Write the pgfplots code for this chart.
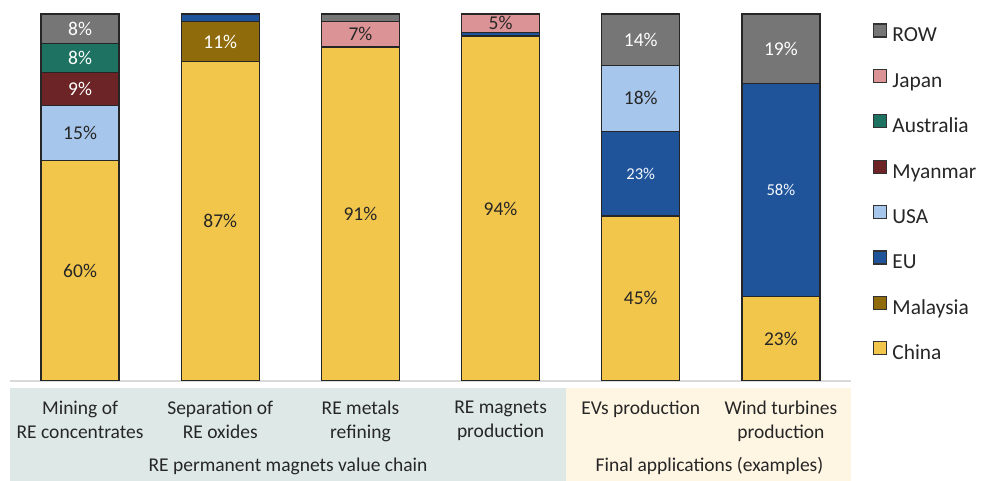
\documentclass[border=0pt]{standalone}
\usepackage{pgfplots}
\pgfplotsset{compat=1.18}
\usepackage{fontspec}
\setmainfont{Carlito}
\definecolor{cChina}{HTML}{F2C54B}
\definecolor{cMalaysia}{HTML}{8F6B0B}
\definecolor{cEU}{HTML}{1F549B}
\definecolor{cUSA}{HTML}{A7C6EC}
\definecolor{cMyanmar}{HTML}{6D2427}
\definecolor{cAustralia}{HTML}{1E7262}
\definecolor{cJapan}{HTML}{DB9396}
\definecolor{cROW}{HTML}{767676}
\definecolor{boxA}{HTML}{DEE9E7}
\definecolor{boxB}{HTML}{FEF6E3}
\definecolor{txt}{HTML}{262626}
\begin{document}
\begin{tikzpicture}
\useasboundingbox (0,0) rectangle (490.5pt,240.5pt);
\fill[boxA] (5pt,0pt) rectangle (283pt,46.5pt);
\fill[boxB] (283pt,0pt) rectangle (425.5pt,46.5pt);
\node[anchor=base, font=\fontsize{9.75}{12}\selectfont, text=txt] at (144pt,4.5pt) {RE permanent magnets value chain};
\node[anchor=base, font=\fontsize{9.75}{12}\selectfont, text=txt] at (354.75pt,4.5pt) {Final applications (examples)};
\begin{axis}[
  at={(5pt,50pt)}, anchor=south west,
  scale only axis, width=420.5pt, height=183.5pt,
  ybar stacked, bar width=39pt,
  ymin=0, ymax=100, xmin=-0.5, xmax=5.5, enlargelimits=false,
  axis y line=none, axis x line*=bottom,
  x axis line style={draw=black!15, line width=1pt, -},
  xtick=data, major tick length=0pt,
  xticklabels={{Mining of\\RE concentrates},{Separation of\\RE oxides},{RE metals\\refining},{RE magnets\\production},{EVs production},{Wind turbines\\production}},
  xticklabel style={anchor=north, inner sep=0pt, yshift=-10pt, align=center, font=\fontsize{9.75}{12}\selectfont, text=txt},
  every axis plot/.append style={draw=black!85, line width=0.7pt},
  reverse legend, legend cell align=left,
  legend image code/.code={\draw[#1, draw=black!80, line width=0.6pt] (0pt,0pt) rectangle (6.5pt,6.5pt);},
  legend style={draw=none, fill=none, inner sep=0pt, at={(axis description cs:1.0260,0.9755)}, anchor=north west,
    row sep=11.4pt, font=\fontsize{10.7}{12}\selectfont, text=txt,
    nodes={inner sep=0pt, text height=7pt, text depth=2pt},
    /tikz/every odd column/.append style={column sep=2.5pt}},
]
\addplot[fill=cChina] coordinates {(0,60) (1,87) (2,91) (3,94) (4,45) (5,23)};
\addplot[fill=cMalaysia] coordinates {(0,0) (1,11) (2,0) (3,0) (4,0) (5,0)};
\addplot[fill=cEU] coordinates {(0,0) (1,2) (2,0) (3,1) (4,23) (5,58)};
\addplot[fill=cUSA] coordinates {(0,15) (1,0) (2,0) (3,0) (4,18) (5,0)};
\addplot[fill=cMyanmar] coordinates {(0,9) (1,0) (2,0) (3,0) (4,0) (5,0)};
\addplot[fill=cAustralia] coordinates {(0,8) (1,0) (2,0) (3,0) (4,0) (5,0)};
\addplot[fill=cJapan] coordinates {(0,0) (1,0) (2,7) (3,5) (4,0) (5,0)};
\addplot[fill=cROW] coordinates {(0,8) (1,0) (2,2) (3,0) (4,14) (5,19)};
\legend{China,Malaysia,EU,USA,Myanmar,Australia,Japan,ROW}
\end{axis}
\begin{axis}[
  at={(5pt,50pt)}, anchor=south west,
  scale only axis, width=420.5pt, height=183.5pt,
  ymin=0, ymax=100, xmin=-0.5, xmax=5.5, enlargelimits=false,
  hide axis,
  nodes near coords, point meta=explicit symbolic, nodes near coords align=center,
]
\addplot[draw=none, mark=none, every node near coord/.append style={font=\fontsize{9.75}{12}\selectfont, text=txt}] coordinates {
 (0,30) [60\%] (0,67.5) [15\%] (1,43.5) [87\%] (2,45.5) [91\%] (2,94.5) [7\%]
 (3,47) [94\%] (3,97.5) [5\%] (4,22.5) [45\%] (4,77) [18\%] (5,11.5) [23\%]};
\addplot[draw=none, mark=none, every node near coord/.append style={font=\fontsize{9.75}{12}\selectfont, text=white}] coordinates {
 (0,79.5) [9\%] (0,88) [8\%] (0,96) [8\%] (1,92.5) [11\%] (4,93) [14\%] (5,90.5) [19\%]};
\addplot[draw=none, mark=none, every node near coord/.append style={font=\fontsize{8.3}{10}\selectfont, text=white!90!cUSA}] coordinates {
 (4,56.5) [23\%] (5,52) [58\%]};
\end{axis}
\end{tikzpicture}
\end{document}
